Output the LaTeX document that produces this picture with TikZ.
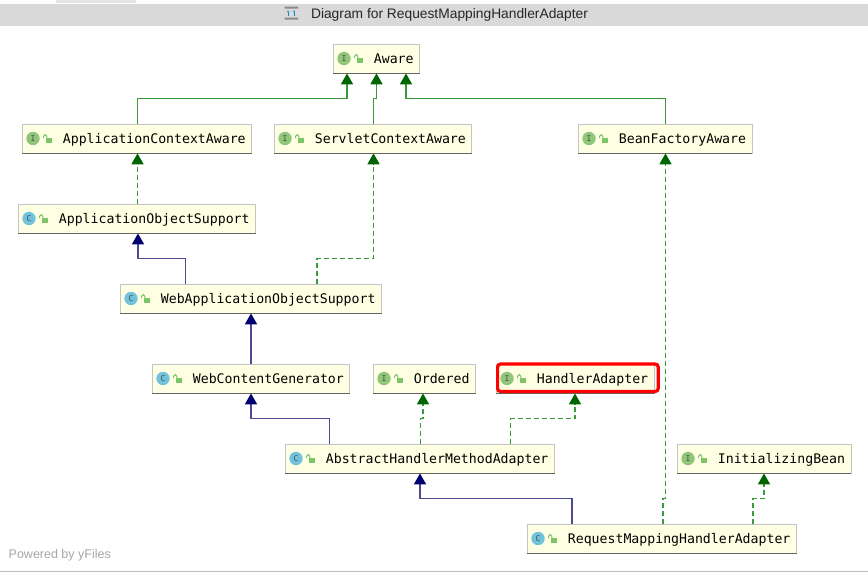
\documentclass[tikz,border=0pt]{standalone}
\usepackage{fontspec}
\setmainfont{Liberation Sans}
\setmonofont{DejaVu Sans Mono}
\usetikzlibrary{arrows.meta}
\definecolor{boxfill}{HTML}{FFFFE3}
\definecolor{boxline}{HTML}{C4C4C4}
\definecolor{extgreen}{HTML}{3A9A3A}
\definecolor{tipgreen}{HTML}{006400}
\definecolor{extnavy}{HTML}{4A4A96}
\definecolor{tipnavy}{HTML}{000070}
\definecolor{iconI}{HTML}{8FC67A}
\definecolor{iconC}{HTML}{71C2DC}
\definecolor{lockgreen}{HTML}{7CC36A}
\tikzset{
  umlbox/.style={draw=boxline, fill=boxfill, line width=.8pt, anchor=west,
    inner xsep=6pt, inner ysep=0pt, minimum height=29pt, text height=11pt, text depth=2pt,
    font=\fontsize{13.2pt}{15pt}\ttfamily},
  boxedge/.style={draw=black!60, line width=1pt},
  kindicon/.style={circle, fill=#1, inner sep=0pt, minimum size=13.4pt,
    font=\fontsize{8pt}{8pt}\ttfamily, text=black!70},
  kind I/.style={kindicon=iconI},
  kind C/.style={kindicon=iconC},
  pics/lock/.style={code={
    \fill[lockgreen] (-2.5,-.5) rectangle (4,4.5);
    \draw[lockgreen, line width=1pt] (-4.5,-.5) -- (-4.5,-2.2) arc[start angle=180, end angle=360, radius=1.7] -- (-1.1,-.5);
  }},
  implements/.style={draw=extgreen, line width=1.7pt, dash pattern=on 5pt off 3pt,
    -{Triangle[length=11pt, width=12pt, color=tipgreen, sep=0pt]}},
  extendsI/.style={draw=extgreen, line width=1.7pt,
    -{Triangle[length=11pt, width=12pt, color=tipgreen, sep=0pt]}},
  extendsC/.style={draw=extnavy, line width=1.7pt,
    -{Triangle[length=11pt, width=12pt, color=tipnavy, sep=0pt]}},
}
\begin{document}
\begin{tikzpicture}[x=1pt, y=-1pt]
\useasboundingbox[fill=white] (0,0) rectangle (868,574);
% title bar
\fill[black!15] (0,4) rectangle (868,26);
\fill[black!10] (56,0) rectangle (136,3);
\node[font=\fontsize{13.8pt}{15pt}\selectfont, text=black!85, inner sep=0pt] (title) at (449.5,14.5)
  {Diagram for RequestMappingHandlerAdapter};
\fill[black!45] (284.5,6.5) rectangle (298,8.5) (284.5,17.5) rectangle (298,19.5);
\draw[cyan!70!blue, line width=.8pt, -{Stealth[length=2.5pt]}] (288,16) -- (288,10);
\draw[cyan!70!blue, line width=.8pt, -{Stealth[length=2.5pt]}] (294,16) -- (294,10);
\draw[black!25, line width=1.2pt] (0,571.5) -- (868,571.5);
\node[font=\fontsize{12.5pt}{14pt}\selectfont, text=black!35, anchor=west, inner sep=0pt] (powered) at (8.5,555.5)
  {Powered by yFiles};
% classes and interfaces
\foreach \id/\xa/\yc/\kind/\txt in {
  aware/333/58.5/I/Aware,
  aca/22/138.5/I/ApplicationContextAware,
  sca/274/138.5/I/ServletContextAware,
  bfa/578/138.5/I/BeanFactoryAware,
  aos/18/218.5/C/ApplicationObjectSupport,
  waos/120/298.5/C/WebApplicationObjectSupport,
  wcg/152/378.5/C/WebContentGenerator,
  ordered/373/378.5/I/Ordered,
  ha/496/378.5/I/HandlerAdapter,
  ahma/285/458.5/C/AbstractHandlerMethodAdapter,
  ib/677/458.5/I/InitializingBean,
  rmha/527/538.5/C/RequestMappingHandlerAdapter}
{
  \node[umlbox] (\id) at (\xa,\yc) {\hspace*{34.5pt}\txt};
  \draw[boxedge] (\id.south west) -- (\id.south east);
  \node[kind \kind] (\id-icon) at ([xshift=11]\id.west) {\kind};
  \pic at ([xshift=26]\id.west) {lock};
}
% highlight
\draw[red, line width=3.2pt, rounded corners=3pt] (497.6,364) rectangle (658.2,391.5);
% edges
\draw[extendsI] ([xshift=115.5]aca.north west) -- ++(0,-25) -| ([xshift=14]aware.south west);
\draw[extendsI] ([xshift=99.5]sca.north west) -- ++(0,-25) -| ([xshift=43.5]aware.south west);
\draw[extendsI] ([xshift=87.5]bfa.north west) -- ++(0,-25) -| ([xshift=73]aware.south west);
\draw[implements] ([xshift=119.5]aos.north west) -- ([xshift=115.5]aca.south west);
\draw[extendsC] ([xshift=65.5]waos.north west) -- ++(0,-25) -| ([xshift=120]aos.south west);
\draw[implements] ([xshift=197]waos.north west) -- ++(0,-25) -| ([xshift=99.5]sca.south west);
\draw[extendsC] ([xshift=99]wcg.north west) -- ([xshift=131]waos.south west);
\draw[extendsC] ([xshift=44.5]ahma.north west) -- ++(0,-25) -| ([xshift=99]wcg.south west);
\draw[implements] ([xshift=135.5]ahma.north west) -- ++(0,-25) -| ([xshift=50]ordered.south west);
\draw[implements] ([xshift=225.5]ahma.north west) -- ++(0,-25) -| ([xshift=79]ha.south west);
\draw[extendsC] ([xshift=45]rmha.north west) -- ++(0,-25) -| ([xshift=135]ahma.south west);
\draw[implements] ([xshift=136]rmha.north west) -- ++(0,-25) -| ([xshift=87.5]bfa.south west);
\draw[implements] ([xshift=226]rmha.north west) -- ++(0,-25) -| ([xshift=87]ib.south west);
\end{tikzpicture}
\end{document}
